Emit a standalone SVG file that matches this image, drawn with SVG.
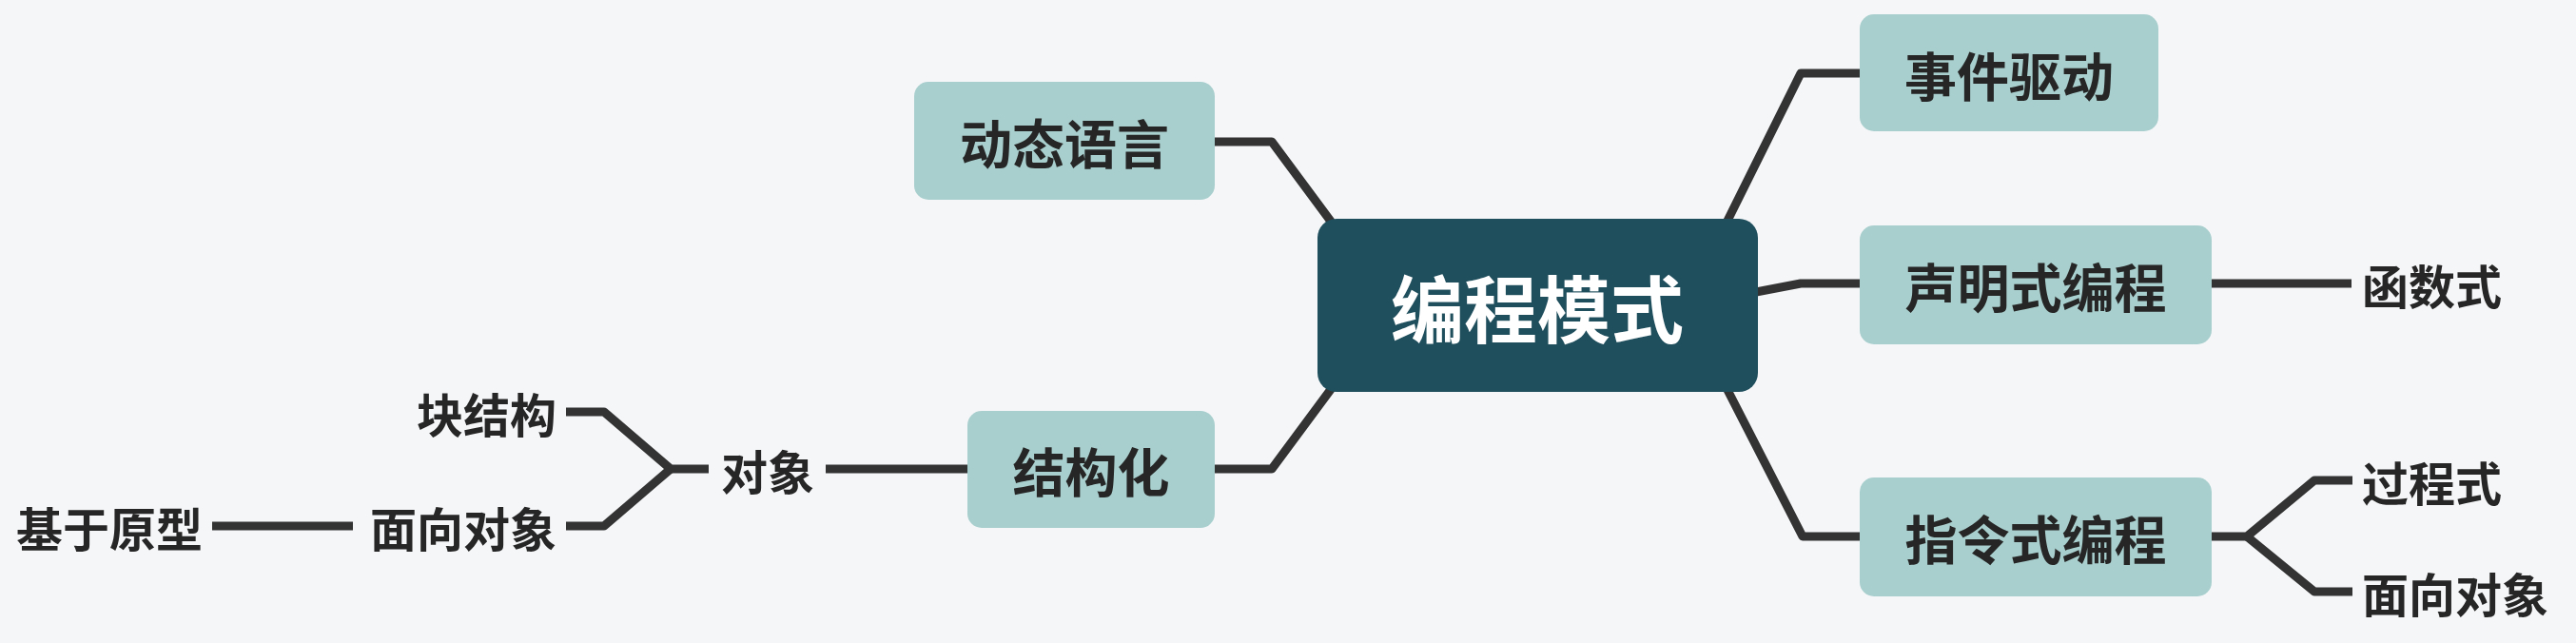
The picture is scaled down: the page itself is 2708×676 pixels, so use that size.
<svg xmlns="http://www.w3.org/2000/svg" width="2708" height="676" viewBox="0 0 2708 676">
<style>
.bg{fill:#f5f6f8}
.box{fill:#a8cfcd}
.root{fill:#1f4e5c}
.lbl{font-family:"Noto Sans CJK SC","Noto Sans",sans-serif;font-size:55px;font-weight:600;fill:#262626;text-anchor:middle;dominant-baseline:central}
.rlbl{font-family:"Noto Sans CJK SC","Noto Sans",sans-serif;font-size:77px;font-weight:700;fill:#ffffff;text-anchor:middle;dominant-baseline:central}
.leaf{font-family:"Noto Sans CJK SC","Noto Sans",sans-serif;font-size:49px;font-weight:600;fill:#262626;dominant-baseline:central}
.ln{fill:none;stroke:#333333;stroke-width:9;stroke-linejoin:round;stroke-linecap:butt}
</style>
<rect class="bg" x="0" y="0" width="2708" height="676"/>
<g id="connectors">
<path class="ln" d="M1277 149 L1337 149 L1400 234"/>
<path class="ln" d="M1277 493 L1337 493 L1400 408"/>
<path class="ln" d="M1815 234 L1893 77 L1955 77"/>
<path class="ln" d="M1846 307 L1893 298 L1955 298"/>
<path class="ln" d="M1815 408 L1895 564 L1955 564"/>
<path class="ln" d="M2325 298 L2472 298"/>
<path class="ln" d="M2325 564 L2362 564 L2433 505 L2473 505"/>
<path class="ln" d="M2362 564 L2433 622 L2473 622"/>
<path class="ln" d="M1017 493 L868 493"/>
<path class="ln" d="M745 493 L705 493 L635 433 L595 433"/>
<path class="ln" d="M705 493 L635 553 L595 553"/>
<path class="ln" d="M371 553 L223 553"/>
</g>
<g id="root">
<rect class="root" x="1385" y="230" width="463" height="182" rx="20"/>
<text class="rlbl" x="1616" y="321">编程模式</text>
</g>
<g id="n-dongtai">
<rect class="box" x="961" y="86" width="316" height="124" rx="15"/>
<text class="lbl" x="1119" y="148">动态语言</text>
</g>
<g id="n-jiegouhua">
<rect class="box" x="1017" y="432" width="260" height="123" rx="15"/>
<text class="lbl" x="1147" y="493">结构化</text>
</g>
<g id="n-shijian">
<rect class="box" x="1955" y="15" width="314" height="123" rx="15"/>
<text class="lbl" x="2112" y="77">事件驱动</text>
</g>
<g id="n-shengming">
<rect class="box" x="1955" y="237" width="370" height="125" rx="15"/>
<text class="lbl" x="2140" y="299">声明式编程</text>
</g>
<g id="n-zhiling">
<rect class="box" x="1955" y="502" width="370" height="125" rx="15"/>
<text class="lbl" x="2140" y="564">指令式编程</text>
</g>
<g id="n-hanshu"><text class="leaf" x="2483" y="298">函数式</text></g>
<g id="n-guocheng"><text class="leaf" x="2483" y="505">过程式</text></g>
<g id="n-mianxiang-r"><text class="leaf" x="2483" y="622">面向对象</text></g>
<g id="n-duixiang"><text class="leaf" x="807" y="493" text-anchor="middle">对象</text></g>
<g id="n-kuai"><text class="leaf" x="585" y="433" text-anchor="end">块结构</text></g>
<g id="n-mianxiang-l"><text class="leaf" x="585" y="553" text-anchor="end">面向对象</text></g>
<g id="n-jiyu"><text class="leaf" x="17" y="553">基于原型</text></g>
</svg>
